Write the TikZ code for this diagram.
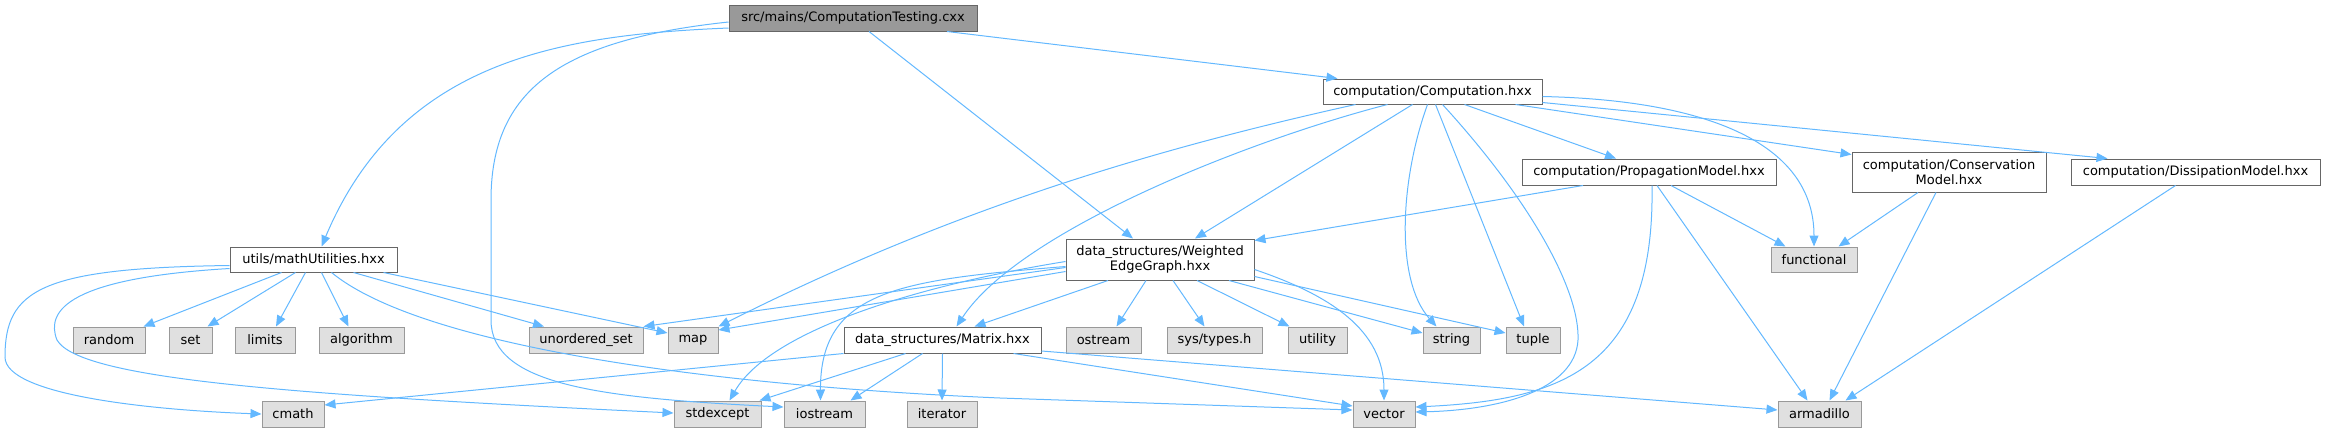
\documentclass[tikz,border=0pt]{standalone}
\usepackage{fontspec}
\setmainfont{DejaVu Sans}
\usepackage{xcolor}
\usepackage{tikz}
\usetikzlibrary{arrows.meta}
\definecolor{incblue}{HTML}{63B8FF}
\tikzset{
  hdr/.style={draw=black!60, fill=white, line width=1pt, inner sep=0pt, align=center,
              minimum height=26pt, font=\fontsize{13}{15}\selectfont},
  sys/.style={hdr, draw=black!40, fill=black!12},
  srcfile/.style={hdr, draw=black!60, fill=black!40},
  incarrow/.style={-{Triangle[length=11pt,width=9pt]}, draw=incblue, line width=1pt}
}

\begin{document}
\begin{tikzpicture}[x=1pt,y=-1pt]
\useasboundingbox (0,0) rectangle (2326,432);
\node[srcfile, minimum width=248pt] (main) at (853,18) {src/mains/ComputationTesting.cxx};
\node[hdr, minimum width=219pt, minimum height=25pt] (comp) at (1432.5,91.5) {computation/Computation.hxx};
\node[hdr, minimum width=254pt] (prop) at (1649,172) {computation/PropagationModel.hxx};
\node[hdr, minimum width=194pt, minimum height=40pt] (cons) at (1949,172) {computation/Conservation\\Model.hxx};
\node[hdr, minimum width=249pt] (diss) at (2195.5,172) {computation/DissipationModel.hxx};
\node[hdr, minimum width=167pt, minimum height=25pt] (math) at (313.5,259.5) {utils/mathUtilities.hxx};
\node[hdr, minimum width=188pt, minimum height=41pt] (weg) at (1160,259.5) {data\_structures/Weighted\\EdgeGraph.hxx};
\node[sys, minimum width=86pt, minimum height=25pt] (functional) at (1814,259.5) {functional};
\node[sys, minimum width=72pt] (random) at (109,340) {random};
\node[sys, minimum width=43pt] (set) at (190.5,340) {set};
\node[sys, minimum width=60pt] (limits) at (265,340) {limits};
\node[sys, minimum width=85pt] (algorithm) at (361.5,340) {algorithm};
\node[sys, minimum width=114pt] (unorderedset) at (586,340) {unordered\_set};
\node[sys, minimum width=50pt] (map) at (693,340) {map};
\node[hdr, minimum width=197pt] (matrix) at (942.5,340) {data\_structures/Matrix.hxx};
\node[sys, minimum width=75pt] (ostream) at (1103.5,340) {ostream};
\node[sys, minimum width=95pt] (systypes) at (1214.5,340) {sys/types.h};
\node[sys, minimum width=59pt] (utility) at (1317.5,340) {utility};
\node[sys, minimum width=57pt] (string) at (1451.5,340) {string};
\node[sys, minimum width=54pt] (tuple) at (1533,340) {tuple};
\node[sys, minimum width=62pt] (cmath) at (293,414) {cmath};
\node[sys, minimum width=87pt] (stdexcept) at (717.5,414) {stdexcept};
\node[sys, minimum width=81pt] (iostream) at (824.5,414) {iostream};
\node[sys, minimum width=70pt] (iterator) at (942,414) {iterator};
\node[sys, minimum width=62pt] (vector) at (1384,414) {vector};
\node[sys, minimum width=83pt] (armadillo) at (1819.5,414) {armadillo};

\draw[incarrow] ([yshift=-10]main.west) .. controls (560,35) and (400,60) .. ([xshift=8]math.north);
\draw[incarrow] ([yshift=-4]main.west) .. controls (560,40) and (491,90) .. (491,200) -- (491,320) .. controls (491,385) and (600,398) .. ([yshift=7]iostream.west);
\draw[incarrow] ([xshift=16]main.south) -- ([xshift=-27]weg.north);
\draw[incarrow] ([xshift=94]main.south) -- ([xshift=15]comp.north west);

\draw[incarrow] ([xshift=-77]comp.south) .. controls (1150,150) and (950,210) .. (map.north east);
\draw[incarrow] ([xshift=-20]comp.south) -- ([xshift=35]weg.north);
\draw[incarrow] ([xshift=-45]comp.south) .. controls (1250,140) and (1020,230) .. ([xshift=14]matrix.north);
\draw[incarrow] ([xshift=-5]comp.south) .. controls (1400,180) and (1395,280) .. ([xshift=-15]string.north);
\draw[incarrow] ([xshift=3]comp.south) -- ([xshift=-9]tuple.north);
\draw[incarrow] ([xshift=10]comp.south) .. controls (1530,200) and (1580,290) .. (1578,340) .. controls (1575,390) and (1500,410) .. ([yshift=2]vector.east);
\draw[incarrow] ([xshift=32]comp.south) -- ([xshift=-33]prop.north);
\draw[incarrow] ([xshift=83]comp.south) -- ([yshift=-3]cons.north west);
\draw[incarrow] ([yshift=2]comp.south east) -- ([xshift=-88]diss.north);
\draw[incarrow] ([yshift=-5]comp.east) .. controls (1700,100) and (1814,140) .. (functional.north);

\draw[incarrow] ([xshift=-66]prop.south) -- ([yshift=-2]weg.north east);
\draw[incarrow] ([xshift=22]prop.south) -- ([xshift=15]functional.north west);
\draw[incarrow] ([xshift=8]prop.south) -- ([xshift=-12]armadillo.north);
\draw[incarrow] ([xshift=3]prop.south) .. controls (1655,370) and (1560,400) .. ([yshift=7]vector.east);

\draw[incarrow] ([xshift=-31]cons.south) -- ([xshift=-19]functional.north east);
\draw[incarrow] ([xshift=-13]cons.south) -- ([xshift=10]armadillo.north);
\draw[incarrow] ([xshift=-20]diss.south) -- ([xshift=-16]armadillo.north east);

\draw[incarrow] ([xshift=-52]weg.south) -- ([xshift=32]matrix.north);
\draw[incarrow] ([xshift=-14]weg.south) -- ([xshift=13]ostream.north);
\draw[incarrow] ([xshift=13]weg.south) -- ([xshift=-10]systypes.north);
\draw[incarrow] ([xshift=37]weg.south) -- ([xshift=2]utility.north west);
\draw[incarrow] ([xshift=69]weg.south) -- ([yshift=7]string.west);
\draw[incarrow] ([yshift=-17]weg.east) -- ([yshift=7]tuple.west);
\draw[incarrow] ([yshift=-10]weg.east) .. controls (1330,295) and (1384,330) .. (vector.north);
\draw[incarrow] ([yshift=-8]weg.west) -- (unorderedset.north east);
\draw[incarrow] ([yshift=-12]weg.west) -- ([yshift=10]map.east);
\draw[incarrow] ([yshift=-2]weg.west) .. controls (920,285) and (770,330) .. ([xshift=12]stdexcept.north);
\draw[incarrow] ([yshift=-7]weg.west) .. controls (900,280) and (820,290) .. ([xshift=-4]iostream.north);

\draw[incarrow] (matrix.south west) -- ([yshift=9]cmath.east);
\draw[incarrow] ([xshift=-37]matrix.south) -- ([xshift=-2]stdexcept.north east);
\draw[incarrow] ([xshift=-20]matrix.south) -- ([xshift=26]iostream.north);
\draw[incarrow] (matrix.south) -- (iterator.north);
\draw[incarrow] ([xshift=71]matrix.south) -- ([yshift=8]vector.west);
\draw[incarrow] ([yshift=-11]matrix.east) -- ([yshift=4]armadillo.west);

\draw[incarrow] ([xshift=-32]math.south) -- ([xshift=-2]random.north east);
\draw[incarrow] ([xshift=-18]math.south) -- ([xshift=-5]set.north east);
\draw[incarrow] ([xshift=-8]math.south) -- ([xshift=11]limits.north);
\draw[incarrow] ([xshift=8]math.south) -- ([xshift=-13]algorithm.north);
\draw[incarrow] ([xshift=40]math.south) -- ([xshift=-42]unorderedset.north);
\draw[incarrow] ([xshift=70]math.south) -- ([yshift=7]map.west);
\draw[incarrow] ([xshift=18]math.south) .. controls (420,345) and (700,385) .. (1000,398) -- ([yshift=4]vector.west);
\draw[incarrow] ([yshift=-6]math.west) .. controls (40,268) and (5,290) .. (5,357) .. controls (5,395) and (150,410) .. (cmath.west);
\draw[incarrow] ([yshift=-9]math.west) .. controls (70,278) and (45,310) .. (57,340) .. controls (80,380) and (300,395) .. ([yshift=1]stdexcept.west);
\end{tikzpicture}
\end{document}
